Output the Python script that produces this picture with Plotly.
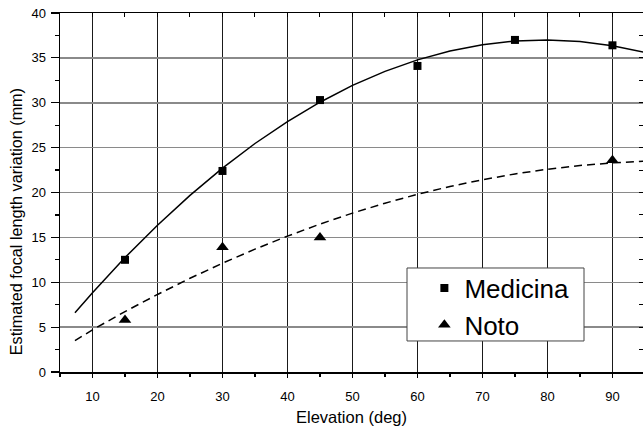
import plotly.graph_objects as go

# ---- data ----
elev_medicina = [15, 30, 45, 60, 75, 90]
medicina = [12.5, 22.4, 30.3, 34.1, 37.0, 36.4]

elev_noto = [15, 30, 45, 90]
noto = [5.8, 13.9, 15.0, 23.6]

fit_elev = [7.3, 10, 15, 20, 25, 30, 35, 40, 45, 50, 55, 60, 65, 70, 75, 80, 85, 90, 95]
medicina_fit = [6.6, 8.84, 12.75, 16.36, 19.68, 22.72, 25.46, 27.90, 30.06, 31.93,
                33.50, 34.78, 35.77, 36.47, 36.88, 37.00, 36.82, 36.36, 35.60]
noto_fit = [3.5, 4.70, 6.73, 8.64, 10.44, 12.12, 13.69, 15.14, 16.48, 17.70,
            18.81, 19.80, 20.67, 21.42, 22.07, 22.59, 23.01, 23.30, 23.48]

x_title = "Elevation (deg)"
y_title = "Estimated focal length variation (mm)"

FONT = "Liberation Sans, Arial, Helvetica, sans-serif"

fig = go.Figure()

fig.add_trace(go.Scatter(x=fit_elev, y=medicina_fit, mode="lines",
                         line=dict(color="black", width=1.5),
                         showlegend=False, hoverinfo="skip"))
fig.add_trace(go.Scatter(x=fit_elev, y=noto_fit, mode="lines",
                         line=dict(color="black", width=1.5, dash="8px,5px"),
                         showlegend=False, hoverinfo="skip"))
fig.add_trace(go.Scatter(x=elev_medicina, y=medicina, mode="markers", name="Medicina",
                         marker=dict(symbol="square", size=8, color="black")))
fig.add_trace(go.Scatter(x=elev_noto, y=noto, mode="markers", name="Noto",
                         marker=dict(symbol="triangle-up", size=11, color="black")))
# attach overlay axes so they are drawn
fig.add_trace(go.Scatter(x=[], y=[], xaxis="x2", yaxis="y2", showlegend=False, hoverinfo="skip"))

# plot area in pixels: x 60..643, y 13..372
fig.update_layout(
    width=643, height=431,
    margin=dict(l=60, r=0, t=13, b=59),
    paper_bgcolor="white", plot_bgcolor="white",
    font=dict(family=FONT, color="black", size=13),
    xaxis=dict(range=[5, 94.7], tick0=0, dtick=10, ticks="outside", ticklen=4,
               tickcolor="black", tickwidth=1.2, automargin=False,
               showline=True, linecolor="black", linewidth=1.5,
               showgrid=True, gridcolor="#1a1a1a", gridwidth=1,
               zeroline=False, ticklabelstandoff=8,
               tickfont=dict(size=13, family=FONT),
               minor=dict(dtick=5, tick0=0, ticks="outside", ticklen=3,
                          tickcolor="black", showgrid=False)),
    yaxis=dict(range=[0, 40], tick0=0, dtick=5, ticks="outside", ticklen=8,
               tickcolor="black", tickwidth=1.2, automargin=False,
               showline=True, linecolor="black", linewidth=1.5,
               showgrid=True, gridcolor="#8a8a8a", gridwidth=1.5,
               zeroline=False, ticklabelstandoff=2,
               tickfont=dict(size=13, family=FONT),
               minor=dict(dtick=2.5, tick0=0, ticks="outside", ticklen=4,
                          tickcolor="black", showgrid=False)),
    xaxis2=dict(overlaying="x", side="top", matches="x", range=[5, 94.7],
                tick0=0, dtick=5, ticks="inside", ticklen=4, tickcolor="black",
                showticklabels=False, showgrid=False, zeroline=False, automargin=False,
                showline=True, linecolor="black", linewidth=1.5),
    yaxis2=dict(overlaying="y", side="right", matches="y", range=[0, 40],
                tick0=0, dtick=2.5, ticks="inside", ticklen=4, tickcolor="black",
                showticklabels=False, showgrid=False, zeroline=False, automargin=False,
                showline=True, linecolor="black", linewidth=1.5),
    legend=dict(x=0.625, xanchor="left", y=0.182, yanchor="middle",
                bgcolor="rgba(0,0,0,0)", borderwidth=0,
                font=dict(size=26, family=FONT, color="black")),
    shapes=[dict(type="rect", xref="paper", yref="paper",
                 x0=0.5952, x1=0.8988, y0=0.0864, y1=0.2897,
                 line=dict(color="#444444", width=1), fillcolor="white", layer="above")],
    annotations=[
        dict(text=y_title, xref="paper", yref="paper",
             x=-0.0755, y=0.42, textangle=-90, showarrow=False,
             xanchor="center", yanchor="middle",
             font=dict(size=16.2, family=FONT, color="black")),
        dict(text=x_title, xref="paper", yref="paper",
             x=0.5, y=-0.1253, showarrow=False,
             xanchor="center", yanchor="middle",
             font=dict(size=16.5, family=FONT, color="black")),
    ],
)

fig.write_html("out.html", config={"displayModeBar": False, "staticPlot": True},
               post_script="document.body.style.margin='0';document.body.style.overflow='hidden';")
